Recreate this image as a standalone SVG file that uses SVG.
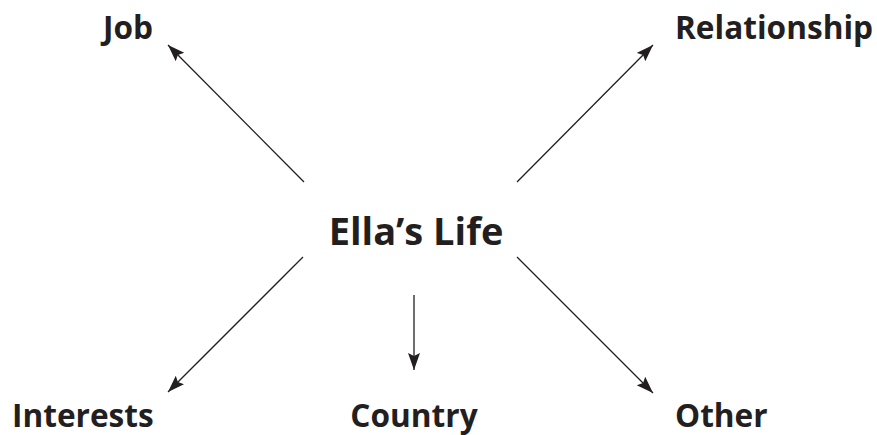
<svg xmlns="http://www.w3.org/2000/svg" width="877" height="435" viewBox="0 0 877 435">
<style>
.lbl{font-family:"Open Sans","Noto Sans","Liberation Sans",sans-serif;font-weight:700;fill:#231f20;font-size:31.6px}
.ctr{font-size:38px}
.conn{stroke:#231f20;stroke-width:1.3;fill:none;marker-end:url(#ah)}
</style>
<defs>
<marker id="ah" markerUnits="userSpaceOnUse" markerWidth="18" markerHeight="13" refX="17" refY="6" orient="auto">
<path d="M0,0 L17,6 L0,12 L3,6 z" fill="#231f20"/>
</marker>
</defs>
<rect width="877" height="435" fill="#ffffff"/>
<g id="connectors">
<line class="conn" x1="304" y1="182" x2="168" y2="45"/>
<line class="conn" x1="517" y1="182" x2="653" y2="45"/>
<line class="conn" x1="303" y1="257" x2="168" y2="392"/>
<line class="conn" x1="414" y1="295" x2="414" y2="370"/>
<line class="conn" x1="517" y1="257" x2="653" y2="393"/>
</g>
<g id="center"><text class="lbl ctr" x="416" y="245" text-anchor="middle">Ella’s Life</text></g>
<g id="job"><text class="lbl" x="103" y="39">Job</text></g>
<g id="relationship"><text class="lbl" x="675" y="39">Relationship</text></g>
<g id="interests"><text class="lbl" x="12" y="427">Interests</text></g>
<g id="country"><text class="lbl" x="414" y="427" text-anchor="middle">Country</text></g>
<g id="other"><text class="lbl" x="675" y="427">Other</text></g>
</svg>
